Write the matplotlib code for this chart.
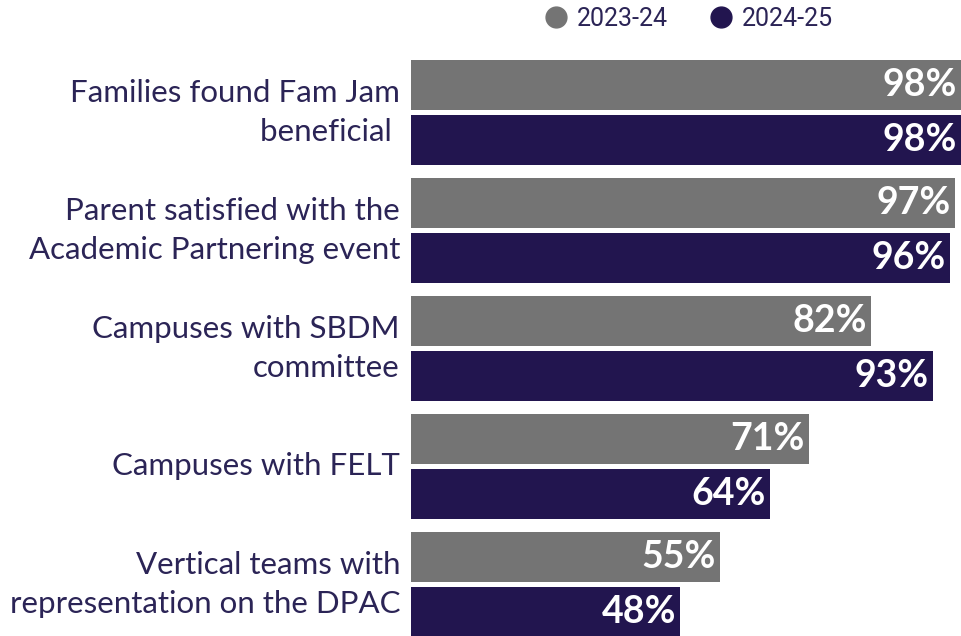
import matplotlib.pyplot as plt
from matplotlib.lines import Line2D

categories = [
    "Families found Fam Jam\nbeneficial ",
    "Parent satisfied with the\nAcademic Partnering event",
    "Campuses with SBDM\ncommittee",
    "Campuses with FELT",
    "Vertical teams with\nrepresentation on the DPAC",
]
series_names = ["2023-24", "2024-25"]
values_2324 = [98, 97, 82, 71, 55]
values_2425 = [98, 96, 93, 64, 48]

GRAY = "#747474"
NAVY = "#22154f"
TEXT = "#2b2456"

W, H = 961, 636
fig = plt.figure(figsize=(W / 100, H / 100), dpi=100)

# bar area: starts at x=411 px, 98% reaches ~961 px
ax = fig.add_axes([411 / W, 0, 550 / W, 1])
ax.set_xlim(0, 98.05)
ax.set_ylim(H, 0)  # y in pixel units from the top
ax.axis("off")

first_top = 60
step = 118
bar_h = 50
gap = 5

for i, (a, b) in enumerate(zip(values_2324, values_2425)):
    y1 = first_top + i * step + bar_h / 2
    y2 = y1 + bar_h + gap
    for y, v, c in [(y1, a, GRAY), (y2, b, NAVY)]:
        ax.barh(y, v, height=bar_h, color=c, edgecolor="none")
        ax.annotate(f"{v}%", xy=(v, y), xytext=(-3, 0), textcoords="offset points",
                    ha="right", va="center", color="white", fontsize=27,
                    fontweight="bold", family="Lato")
    # category label, centred on the pair of bars
    fig.text(400 / W, 1 - (y1 + y2) / 2 / H, categories[i], ha="right", va="center",
             fontsize=22.5, color=TEXT, family="Lato", linespacing=1.5)

handles = [Line2D([], [], marker="o", ls="none", color=c, markersize=15)
           for c in (GRAY, NAVY)]
fig.legend(handles, series_names, loc="center", bbox_to_anchor=(688 / W, 1 - 19 / H),
           ncol=2, frameon=False, handlelength=1.0, handletextpad=0.35,
           columnspacing=1.6, prop={"family": "Roboto", "size": 18},
           labelcolor=TEXT)

fig.savefig("out.png", dpi=100)
